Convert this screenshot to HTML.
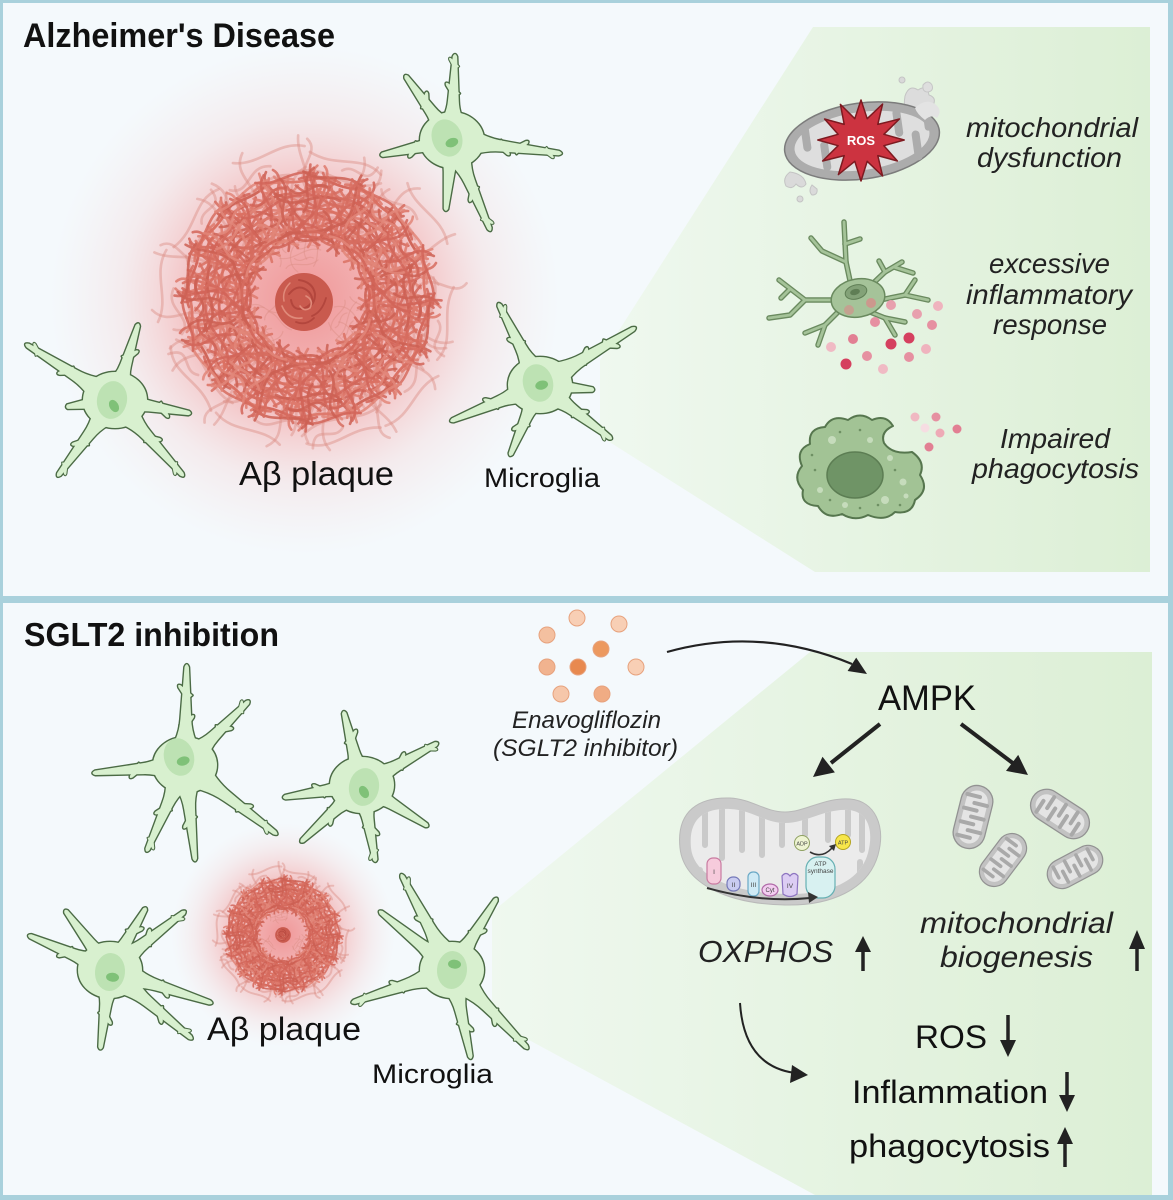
<!DOCTYPE html>
<html><head><meta charset="utf-8">
<style>
html,body{margin:0;padding:0;background:#a9d1dc;}
svg{display:block}
text{font-family:"Liberation Sans",Arial,sans-serif}
</style></head>
<body>
<svg width="1173" height="1200" viewBox="0 0 1173 1200" xmlns="http://www.w3.org/2000/svg" xmlns:xlink="http://www.w3.org/1999/xlink">
<defs>
 <linearGradient id="wg1" gradientUnits="userSpaceOnUse" x1="600" y1="0" x2="1152" y2="0">
  <stop offset="0" stop-color="#eff8ef"/><stop offset="1" stop-color="#dcefd5"/>
 </linearGradient>
 <linearGradient id="wg2" gradientUnits="userSpaceOnUse" x1="490" y1="0" x2="1152" y2="0">
  <stop offset="0" stop-color="#eff8ef"/><stop offset="1" stop-color="#dcefd5"/>
 </linearGradient>
 <radialGradient id="glow1" gradientUnits="userSpaceOnUse" cx="305" cy="300" r="255">
  <stop offset="0" stop-color="#ef7d7d" stop-opacity=".8"/>
  <stop offset=".45" stop-color="#f29494" stop-opacity=".55"/>
  <stop offset=".72" stop-color="#f6b9b9" stop-opacity=".22"/>
  <stop offset="1" stop-color="#f8d0d0" stop-opacity="0"/>
 </radialGradient>
 <radialGradient id="glow2" gradientUnits="userSpaceOnUse" cx="283" cy="935" r="112">
  <stop offset="0" stop-color="#ef7d7d" stop-opacity=".8"/>
  <stop offset=".5" stop-color="#f29494" stop-opacity=".5"/>
  <stop offset=".8" stop-color="#f6b9b9" stop-opacity=".18"/>
  <stop offset="1" stop-color="#f8d0d0" stop-opacity="0"/>
 </radialGradient>
 <clipPath id="mclip"><path d="M691,848 C688,817 706,808 730,809 C752,810 765,823 785,823 C806,823 826,808 849,810 C868,812 874,830 868,853 C860,882 828,895 785,894 C737,893 694,878 691,848 Z"/></clipPath>

 <!-- plaque strand clusters (sector around +x axis) -->
 <g id="tg">
  <path d="M60,-30 C75,-15 50,5 65,30"/>
  <path d="M80,-38 C70,-10 95,10 82,38"/>
  <path d="M100,-35 C112,-12 92,8 108,34"/>
  <path d="M118,-30 C110,-5 128,12 115,32"/>
  <path d="M50,-10 C65,-25 90,-20 100,-5"/>
  <path d="M70,10 C90,0 105,25 125,15"/>
  <path d="M88,-25 C100,-40 120,-20 128,-35"/>
  <path d="M55,20 C70,35 95,30 105,42"/>
  <path d="M92,-5 C85,10 100,20 90,30"/>
  <path d="M65,-40 C80,-30 90,-45 105,-30"/>
  <path d="M110,0 C120,10 100,22 120,28"/>
  <path d="M75,-12 C62,0 78,12 70,22"/>
 </g>
 <g id="tg2">
  <path d="M55,-35 C70,-20 60,0 75,15"/>
  <path d="M95,-42 C85,-20 110,-5 100,20"/>
  <path d="M125,-20 C115,0 130,20 118,40"/>
  <path d="M62,5 C80,15 75,35 95,40"/>
  <path d="M85,-15 C100,-5 115,-25 130,-10"/>
  <path d="M48,25 C60,10 80,20 88,5"/>
  <path d="M105,-30 C95,-15 120,-10 112,8"/>
  <path d="M70,-30 C85,-45 100,-25 115,-42"/>
  <path d="M78,25 C95,40 110,30 128,38"/>
  <path d="M58,-20 C52,-5 66,5 58,18"/>
 </g>
 <g id="plq" fill="none" stroke-linecap="round">
  <use href="#tg" stroke="#d66c5f"/>
  <use href="#tg" transform="rotate(22.5)" stroke="#de7a6d"/>
  <use href="#tg" transform="rotate(45)" stroke="#d26559"/>
  <use href="#tg" transform="rotate(67.5)" stroke="#e28679"/>
  <use href="#tg" transform="rotate(90)" stroke="#d66c5f"/>
  <use href="#tg" transform="rotate(112.5)" stroke="#de7a6d"/>
  <use href="#tg" transform="rotate(135)" stroke="#d26559"/>
  <use href="#tg" transform="rotate(157.5)" stroke="#e28679"/>
  <use href="#tg" transform="rotate(180)" stroke="#d66c5f"/>
  <use href="#tg" transform="rotate(202.5)" stroke="#de7a6d"/>
  <use href="#tg" transform="rotate(225)" stroke="#d26559"/>
  <use href="#tg" transform="rotate(247.5)" stroke="#e28679"/>
  <use href="#tg" transform="rotate(270)" stroke="#d66c5f"/>
  <use href="#tg" transform="rotate(292.5)" stroke="#de7a6d"/>
  <use href="#tg" transform="rotate(315)" stroke="#d26559"/>
  <use href="#tg" transform="rotate(337.5)" stroke="#e28679"/>
  <use href="#tg" transform="rotate(11.25) scale(1,-1)" stroke="#d26559"/>
  <use href="#tg" transform="rotate(33.75) scale(1,-1)" stroke="#da7163"/>
  <use href="#tg" transform="rotate(56.25) scale(1,-1)" stroke="#cd6054"/>
  <use href="#tg" transform="rotate(78.75) scale(1,-1)" stroke="#de7a6d"/>
  <use href="#tg" transform="rotate(101.25) scale(1,-1)" stroke="#d26559"/>
  <use href="#tg" transform="rotate(123.75) scale(1,-1)" stroke="#da7163"/>
  <use href="#tg" transform="rotate(146.25) scale(1,-1)" stroke="#cd6054"/>
  <use href="#tg" transform="rotate(168.75) scale(1,-1)" stroke="#de7a6d"/>
  <use href="#tg" transform="rotate(191.25) scale(1,-1)" stroke="#d26559"/>
  <use href="#tg" transform="rotate(213.75) scale(1,-1)" stroke="#da7163"/>
  <use href="#tg" transform="rotate(236.25) scale(1,-1)" stroke="#cd6054"/>
  <use href="#tg" transform="rotate(258.75) scale(1,-1)" stroke="#de7a6d"/>
  <use href="#tg" transform="rotate(281.25) scale(1,-1)" stroke="#d26559"/>
  <use href="#tg" transform="rotate(303.75) scale(1,-1)" stroke="#da7163"/>
  <use href="#tg" transform="rotate(326.25) scale(1,-1)" stroke="#cd6054"/>
  <use href="#tg" transform="rotate(348.75) scale(1,-1)" stroke="#de7a6d"/>
  <use href="#tg2" transform="rotate(7)" stroke="#cd6054"/>
  <use href="#tg2" transform="rotate(29.5)" stroke="#d66c5f"/>
  <use href="#tg2" transform="rotate(52)" stroke="#e28679"/>
  <use href="#tg2" transform="rotate(74.5)" stroke="#d26559"/>
  <use href="#tg2" transform="rotate(97)" stroke="#cd6054"/>
  <use href="#tg2" transform="rotate(119.5)" stroke="#d66c5f"/>
  <use href="#tg2" transform="rotate(142)" stroke="#e28679"/>
  <use href="#tg2" transform="rotate(164.5)" stroke="#d26559"/>
  <use href="#tg2" transform="rotate(187)" stroke="#cd6054"/>
  <use href="#tg2" transform="rotate(209.5)" stroke="#d66c5f"/>
  <use href="#tg2" transform="rotate(232)" stroke="#e28679"/>
  <use href="#tg2" transform="rotate(254.5)" stroke="#d26559"/>
  <use href="#tg2" transform="rotate(277)" stroke="#cd6054"/>
  <use href="#tg2" transform="rotate(299.5)" stroke="#d66c5f"/>
  <use href="#tg2" transform="rotate(322)" stroke="#e28679"/>
  <use href="#tg2" transform="rotate(344.5)" stroke="#d26559"/>
 </g>
 <g id="plqo" fill="none" stroke-linecap="round" stroke="#dc8f85">
  <use href="#tg" transform="rotate(10) scale(1.2)"/>
  <use href="#tg2" transform="rotate(40) scale(1.2)"/>
  <use href="#tg" transform="rotate(75) scale(1.22)"/>
  <use href="#tg2" transform="rotate(110) scale(1.18)"/>
  <use href="#tg" transform="rotate(145) scale(1.22)"/>
  <use href="#tg2" transform="rotate(180) scale(1.2)"/>
  <use href="#tg" transform="rotate(215) scale(1.18)"/>
  <use href="#tg2" transform="rotate(250) scale(1.22)"/>
  <use href="#tg" transform="rotate(285) scale(1.2)"/>
  <use href="#tg2" transform="rotate(320) scale(1.2)"/>
  <use href="#tg" transform="rotate(30) scale(.55)"/>
  <use href="#tg2" transform="rotate(150) scale(.55)"/>
  <use href="#tg" transform="rotate(260) scale(.55)"/>
 </g>
 <g id="pcore">
  <circle r="29" fill="#c95a4e"/>
  <g fill="none" stroke-linecap="round">
   <path d="M-15,-8 q10,-12 20,-2 q8,10 -4,16 q-12,4 -14,-8" stroke="#b3463d" stroke-width="2"/>
   <path d="M-5,-22 q14,2 16,14 q0,12 -10,14" stroke="#b3463d" stroke-width="2"/>
   <path d="M-22,4 q6,14 20,12" stroke="#e08a7a" stroke-width="1.6"/>
   <path d="M2,-6 q8,4 4,12 q-6,4 -10,-2" stroke="#e08a7a" stroke-width="1.6"/>
   <path d="M8,14 q10,-4 14,-18" stroke="#b3463d" stroke-width="1.8"/>
   <path d="M-14,-19 q-8,8 -6,18" stroke="#e08a7a" stroke-width="1.5"/>
   <path d="M-8,20 q10,4 18,-4" stroke="#b3463d" stroke-width="1.8"/>
  </g>
 </g>

 <!-- microglia building blocks -->
 <path id="arm" vector-effect="non-scaling-stroke" d="M4,-22 Q24,-6.5 45,-5.4 L96,-2.2 Q101.5,0 96,2.2 L45,5.4 Q24,6.5 4,22 Z"/>
 <path id="tw" d="M-5,-3.8 L10,-1.6 Q13.8,0 10,1.6 L-5,3.8 Z"/>

 <g id="c1">
  <ellipse rx="32" ry="28"/>
  <use href="#arm" transform="rotate(-88) scale(.87,1)"/>
  <use href="#tw" transform="rotate(-88) translate(48,0) rotate(-42)"/>
  <use href="#tw" transform="rotate(-88) translate(75,0) rotate(-38) scale(.75)"/>
  <use href="#arm" transform="rotate(-126) scale(.81,1)"/>
  <use href="#tw" transform="rotate(-126) translate(45,0) rotate(42)"/>
  <use href="#arm" transform="rotate(168) scale(.74,1)"/>
  <use href="#tw" transform="rotate(168) translate(37,0) rotate(-42)"/>
  <use href="#arm" transform="rotate(7) scale(1.12,1)"/>
  <use href="#tw" transform="rotate(7) translate(67,0) rotate(-42)"/>
  <use href="#tw" transform="rotate(7) translate(50,0) rotate(42)"/>
  <use href="#tw" transform="rotate(7) translate(96,0) rotate(38) scale(.75)"/>
  <use href="#arm" transform="rotate(67)"/>
  <use href="#tw" transform="rotate(67) translate(55,0) rotate(42)"/>
  <use href="#tw" transform="rotate(67) translate(86,0) rotate(-38) scale(.75)"/>
  <use href="#arm" transform="rotate(95) scale(.72,1)"/>
 </g>
 <g id="c2">
  <ellipse rx="32" ry="28"/>
  <use href="#arm" transform="rotate(-148) scale(1.07,1)"/>
  <use href="#tw" transform="rotate(-148) translate(54,0) rotate(-42)"/>
  <use href="#tw" transform="rotate(-148) translate(92,0) rotate(38) scale(.75)"/>
  <use href="#arm" transform="rotate(-73) scale(.81,1)"/>
  <use href="#tw" transform="rotate(-73) translate(45,0) rotate(42)"/>
  <use href="#arm" transform="rotate(10) scale(.78,1)"/>
  <use href="#tw" transform="rotate(10) translate(47,0) rotate(42)"/>
  <use href="#arm" transform="rotate(48) scale(1.04,1)"/>
  <use href="#tw" transform="rotate(48) translate(52,0) rotate(-42)"/>
  <use href="#tw" transform="rotate(48) translate(89,0) rotate(38) scale(.75)"/>
  <use href="#arm" transform="rotate(127) scale(.97,1)"/>
  <use href="#tw" transform="rotate(127) translate(53,0) rotate(42)"/>
  <use href="#tw" transform="rotate(127) translate(83,0) rotate(-38) scale(.75)"/>
  <use href="#arm" transform="rotate(172) scale(.5,1)"/>
 </g>
 <g id="c3">
  <ellipse rx="32" ry="28"/>
  <use href="#arm" transform="rotate(-117) scale(.93,1)"/>
  <use href="#tw" transform="rotate(-117) translate(47,0) rotate(-42)"/>
  <use href="#tw" transform="rotate(-117) translate(80,0) rotate(38) scale(.75)"/>
  <use href="#arm" transform="rotate(-31) scale(1.13,1)"/>
  <use href="#tw" transform="rotate(-31) translate(51,0) rotate(-42)"/>
  <use href="#tw" transform="rotate(-31) translate(79,0) rotate(42)"/>
  <use href="#arm" transform="rotate(158) scale(.98,1)"/>
  <use href="#tw" transform="rotate(158) translate(49,0) rotate(42)"/>
  <use href="#arm" transform="rotate(113) scale(.78,1)"/>
  <use href="#tw" transform="rotate(113) translate(43,0) rotate(42)"/>
  <use href="#arm" transform="rotate(37) scale(.91,1)"/>
  <use href="#tw" transform="rotate(37) translate(46,0) rotate(-42)"/>
  <use href="#tw" transform="rotate(37) translate(78,0) rotate(38) scale(.75)"/>
  <use href="#arm" transform="rotate(5) scale(.55,1)"/>
 </g>
 <g id="c4">
  <ellipse rx="32" ry="28"/>
  <use href="#arm" transform="rotate(-89) scale(1.02,1)"/>
  <use href="#tw" transform="rotate(-89) translate(41,0) rotate(42)"/>
  <use href="#tw" transform="rotate(-89) translate(71,0) rotate(-42)"/>
  <use href="#arm" transform="rotate(-45) scale(.92,1)"/>
  <use href="#tw" transform="rotate(-45) translate(51,0) rotate(42)"/>
  <use href="#tw" transform="rotate(-45) translate(79,0) rotate(-38) scale(.75)"/>
  <use href="#arm" transform="rotate(175) scale(.94,1)"/>
  <use href="#tw" transform="rotate(175) translate(47,0) rotate(-42)"/>
  <use href="#arm" transform="rotate(37) scale(1.17,1)"/>
  <use href="#tw" transform="rotate(37) translate(70,0) rotate(-42)"/>
  <use href="#tw" transform="rotate(37) translate(100,0) rotate(38) scale(.75)"/>
  <use href="#arm" transform="rotate(84) scale(.98,1)"/>
  <use href="#tw" transform="rotate(84) translate(54,0) rotate(42)"/>
  <use href="#arm" transform="rotate(114) scale(.96,1)"/>
  <use href="#tw" transform="rotate(114) translate(48,0) rotate(42)"/>
  <use href="#tw" transform="rotate(114) translate(83,0) rotate(-38) scale(.75)"/>
 </g>
 <g id="c5">
  <ellipse rx="32" ry="28"/>
  <use href="#arm" transform="rotate(-104) scale(.77,1)"/>
  <use href="#tw" transform="rotate(-104) translate(46,0) rotate(42)"/>
  <use href="#arm" transform="rotate(-29) scale(.88,1)"/>
  <use href="#tw" transform="rotate(-29) translate(44,0) rotate(-42)"/>
  <use href="#tw" transform="rotate(-29) translate(76,0) rotate(38) scale(.75)"/>
  <use href="#arm" transform="rotate(171) scale(.81,1)"/>
  <use href="#tw" transform="rotate(171) translate(40,0) rotate(42)"/>
  <use href="#arm" transform="rotate(137) scale(.85,1)"/>
  <use href="#tw" transform="rotate(137) translate(42,0) rotate(-42)"/>
  <use href="#arm" transform="rotate(80) scale(.79,1)"/>
  <use href="#tw" transform="rotate(80) translate(43,0) rotate(-42)"/>
  <use href="#tw" transform="rotate(80) translate(68,0) rotate(38) scale(.75)"/>
  <use href="#arm" transform="rotate(32) scale(.79,1)"/>
 </g>
 <g id="c6">
  <ellipse rx="32" ry="28"/>
  <use href="#arm" transform="rotate(-157) scale(.9,1)"/>
  <use href="#tw" transform="rotate(-157) translate(45,0) rotate(-42)"/>
  <use href="#arm" transform="rotate(-127) scale(.76,1)"/>
  <use href="#arm" transform="rotate(-60) scale(.73,1)"/>
  <use href="#tw" transform="rotate(-60) translate(44,0) rotate(42)"/>
  <use href="#arm" transform="rotate(-38) scale(.97,1)"/>
  <use href="#tw" transform="rotate(-38) translate(48,0) rotate(-42)"/>
  <use href="#tw" transform="rotate(-38) translate(83,0) rotate(38) scale(.75)"/>
  <use href="#arm" transform="rotate(18) scale(1.09,1)"/>
  <use href="#tw" transform="rotate(18) translate(55,0) rotate(42)"/>
  <use href="#arm" transform="rotate(40) scale(1.09,1)"/>
  <use href="#tw" transform="rotate(40) translate(65,0) rotate(42)"/>
  <use href="#tw" transform="rotate(40) translate(94,0) rotate(-38) scale(.75)"/>
  <use href="#arm" transform="rotate(97) scale(.81,1)"/>
  <use href="#tw" transform="rotate(97) translate(45,0) rotate(-42)"/>
 </g>
 <g id="c7">
  <ellipse rx="32" ry="28"/>
  <use href="#arm" transform="rotate(-118) scale(1.1,1)"/>
  <use href="#tw" transform="rotate(-118) translate(55,0) rotate(-42)"/>
  <use href="#tw" transform="rotate(-118) translate(95,0) rotate(38) scale(.75)"/>
  <use href="#arm" transform="rotate(-141) scale(.95,1)"/>
  <use href="#arm" transform="rotate(-58) scale(.86,1)"/>
  <use href="#tw" transform="rotate(-58) translate(43,0) rotate(42)"/>
  <use href="#arm" transform="rotate(162) scale(1.07,1)"/>
  <use href="#tw" transform="rotate(162) translate(54,0) rotate(42)"/>
  <use href="#tw" transform="rotate(162) translate(92,0) rotate(-38) scale(.75)"/>
  <use href="#arm" transform="rotate(78) scale(.92,1)"/>
  <use href="#tw" transform="rotate(78) translate(55,0) rotate(-42)"/>
  <use href="#arm" transform="rotate(46) scale(1.11,1)"/>
  <use href="#tw" transform="rotate(46) translate(61,0) rotate(42)"/>
  <use href="#tw" transform="rotate(46) translate(95,0) rotate(-38) scale(.75)"/>
 </g>

 <g id="smito">
  <rect x="-16" y="-32" width="32" height="64" rx="16" fill="#c2c2c2" stroke="#929292" stroke-width="1.3"/>
  <rect x="-11" y="-27" width="22" height="54" rx="11" fill="#e4e4e4"/>
  <path d="M-11,-21 h13 M11,-14 h-13 M-11,-7 h13 M11,0 h-13 M-11,7 h13 M11,14 h-13 M-11,21 h13" stroke="#a9a9a9" stroke-width="4" stroke-linecap="round" fill="none"/>
 </g>
 <g id="proc">
  <polyline points="852,290 846,262 844,222"/>
  <polyline points="846,262 822,251 811,238"/>
  <polyline points="845,244 860,239"/>
  <polyline points="866,290 885,272 902,262"/>
  <polyline points="885,272 879,261"/>
  <polyline points="894,267 913,273"/>
  <polyline points="835,300 805,300 779,280"/>
  <polyline points="805,300 790,315 769,318"/>
  <polyline points="790,289 781,298"/>
  <polyline points="880,300 905,295 928,300"/>
  <polyline points="905,295 915,280"/>
  <polyline points="840,310 825,325 818,345"/>
  <polyline points="825,325 805,333"/>
  <polyline points="870,312 885,318 895,335"/>
  <polyline points="885,318 905,322"/>
 </g>
</defs>

<!-- panels -->
<rect width="1173" height="1200" fill="#a9d1dc"/>
<rect x="3" y="3" width="1165" height="593" fill="#f4f9fc"/>
<rect x="3" y="603" width="1165" height="592" fill="#f4f9fc"/>

<!-- wedges -->
<polygon points="813,27 1150,27 1150,572 815,572 600,436 600,360" fill="url(#wg1)"/>
<polygon points="810,652 1152,652 1152,1195 815,1195 492,1020 492,912" fill="url(#wg2)"/>

<!-- glows -->
<circle cx="305" cy="300" r="255" fill="url(#glow1)"/>
<circle cx="283" cy="935" r="112" fill="url(#glow2)"/>

<!-- plaques -->
<g transform="translate(308,298)">
 <use href="#plqo" stroke-width="2.2" stroke-opacity=".45"/>
 <use href="#plq" stroke-width="2.6" stroke-opacity=".85"/>
 <use href="#pcore" transform="translate(-4,4)"/>
</g>
<g transform="translate(283,935) scale(.45)">
 <use href="#plqo" stroke-width="3.6" stroke-opacity=".45"/>
 <use href="#plq" stroke-width="3.6" stroke-opacity=".85"/>
 <use href="#pcore" transform="scale(.6)"/>
</g>

<!-- microglia: outline pass then fill pass -->
<g fill="#4b6b45" stroke="#4b6b45" stroke-width="2.8" stroke-linejoin="round">
 <use href="#c1" transform="translate(452,140)"/>
 <use href="#c2" transform="translate(115,400)"/>
 <use href="#c3" transform="translate(540,385)"/>
 <use href="#c4" transform="translate(185,765)"/>
 <use href="#c5" transform="translate(362,785)"/>
 <use href="#c6" transform="translate(110,970)"/>
 <use href="#c7" transform="translate(452,970)"/>
</g>
<g fill="#d8f0cf">
 <use href="#c1" transform="translate(452,140)"/>
 <use href="#c2" transform="translate(115,400)"/>
 <use href="#c3" transform="translate(540,385)"/>
 <use href="#c4" transform="translate(185,765)"/>
 <use href="#c5" transform="translate(362,785)"/>
 <use href="#c6" transform="translate(110,970)"/>
 <use href="#c7" transform="translate(452,970)"/>
</g>
<g>
 <ellipse cx="447" cy="138" rx="15" ry="19" fill="#bde2b3" transform="rotate(-20 447 138)"/>
 <ellipse cx="450" cy="144" rx="6.5" ry="4.5" fill="#7fc178" transform="rotate(-20 447 138)"/>
 <ellipse cx="112" cy="400" rx="15" ry="19" fill="#bde2b3" transform="rotate(10 112 400)"/>
 <ellipse cx="114" cy="406" rx="6.5" ry="4.5" fill="#7fc178" transform="rotate(60 114 406)"/>
 <ellipse cx="538" cy="383" rx="15" ry="19" fill="#bde2b3" transform="rotate(-15 538 383)"/>
 <ellipse cx="541" cy="386" rx="6.5" ry="4.5" fill="#7fc178" transform="rotate(-15 538 383)"/>
 <ellipse cx="179" cy="757" rx="15" ry="19" fill="#bde2b3" transform="rotate(-15 179 757)"/>
 <ellipse cx="182" cy="762" rx="6.5" ry="4.5" fill="#7fc178" transform="rotate(-15 179 757)"/>
 <ellipse cx="364" cy="787" rx="15" ry="19" fill="#bde2b3" transform="rotate(10 364 787)"/>
 <ellipse cx="364" cy="792" rx="6.5" ry="4.5" fill="#7fc178" transform="rotate(60 364 792)"/>
 <ellipse cx="110" cy="972" rx="15" ry="19" fill="#bde2b3" transform="rotate(5 110 972)"/>
 <ellipse cx="113" cy="977" rx="6.5" ry="4.5" fill="#7fc178" transform="rotate(5 110 972)"/>
 <ellipse cx="452" cy="970" rx="15" ry="19" fill="#bde2b3" transform="rotate(5 452 970)"/>
 <ellipse cx="454" cy="964" rx="6.5" ry="4.5" fill="#7fc178" transform="rotate(5 452 970)"/>
</g>

<!-- ROS mitochondrion -->
<g>
 <path d="M905,96 q4,-12 13,-6 q9,-6 11,5 q9,3 3,12 q4,9 -7,10 q-6,7 -13,-1 q-10,-2 -7,-20z" fill="#dcdcdc" stroke="#c4c4c4"/>
 <circle cx="902" cy="80" r="3" fill="#d9d9d9" stroke="#c4c4c4"/>
 <path d="M923,85 q5,-6 9,0 q2,6 -4,7 q-6,0 -5,-7z" fill="#dedede" stroke="#c6c6c6"/>
 <ellipse cx="862" cy="141" rx="78" ry="38" transform="rotate(-8 862 141)" fill="#acacac" stroke="#7c7c7c" stroke-width="1.5"/>
 <ellipse cx="862" cy="141" rx="68" ry="29" transform="rotate(-8 862 141)" fill="#dedede"/>
 <g fill="#acacac" transform="rotate(-8 862 141)">
  <rect x="803" y="118" width="8" height="26" rx="4"/>
  <rect x="820" y="136" width="8" height="30" rx="4"/>
  <rect x="896" y="114" width="8" height="28" rx="4"/>
  <rect x="912" y="138" width="8" height="30" rx="4"/>
  <rect x="926" y="116" width="7" height="24" rx="3.5"/>
 </g>
 <path d="M915,108 q10,-10 20,-4 q8,6 2,14 q-6,-4 -12,2 q-8,-6 -10,-12z" fill="#e3e3e3"/>
 <path d="M790,172 q-8,6 -4,14 q6,4 10,-2 q6,6 10,0 q-2,-10 -16,-12z" fill="#dadada" stroke="#c4c4c4"/>
 <circle cx="800" cy="199" r="3" fill="#dadada" stroke="#c4c4c4"/>
 <path d="M812,185 q-4,6 0,10 q6,0 5,-6z" fill="#dadada" stroke="#c4c4c4"/>
 <polygon fill="#cc3340" stroke="#7d1a20" stroke-width="1.5" stroke-linejoin="round" points="861,100 867.2,118.7 882.6,104 877.8,124.4 899.4,119 883.9,134.3 904.2,140 883.9,145.7 897.4,161 877.8,155.6 882.6,176 867.2,161.3 861,181 854.8,161.3 838.4,174.6 844.2,155.6 822.6,161 838.1,145.7 817.8,140 838.1,134.3 824.6,119 844.2,124.4 840.4,104.4 854.8,118.7"/>
 <text x="861" y="145" font-size="13" font-weight="bold" fill="#ffffff" text-anchor="middle">ROS</text>
</g>

<!-- inflammatory microglia -->
<g fill="none" stroke-linecap="round" stroke-linejoin="round">
 <use href="#proc" stroke="#6a8a5f" stroke-width="5.5"/>
 <use href="#proc" stroke="#a5c399" stroke-width="2.8"/>
</g>
<ellipse cx="858" cy="298" rx="27" ry="19" transform="rotate(-10 858 298)" fill="#a5c399" stroke="#6a8a5f" stroke-width="1.5"/>
<ellipse cx="856" cy="292" rx="11" ry="7" transform="rotate(-15 856 292)" fill="#83a278" stroke="#5f7e55"/>
<ellipse cx="855" cy="292" rx="5" ry="3" transform="rotate(-15 855 292)" fill="#5f7e55"/>
<circle cx="871" cy="303" r="5" fill="#d98a8a" opacity=".75"/>
<circle cx="849" cy="310" r="5" fill="#d98a8a" opacity=".6"/>
<g>
 <circle cx="891" cy="305" r="5" fill="#e8a0ae"/>
 <circle cx="938" cy="306" r="5" fill="#efb3be"/>
 <circle cx="917" cy="314" r="5" fill="#e8a0ae"/>
 <circle cx="932" cy="325" r="5" fill="#e690a1"/>
 <circle cx="875" cy="322" r="5" fill="#e690a1"/>
 <circle cx="853" cy="339" r="5" fill="#e27f93"/>
 <circle cx="891" cy="344" r="5.5" fill="#d5405f"/>
 <circle cx="909" cy="338" r="5.5" fill="#d5405f"/>
 <circle cx="926" cy="349" r="5" fill="#efb3be"/>
 <circle cx="831" cy="347" r="5" fill="#f0bac4"/>
 <circle cx="867" cy="356" r="5" fill="#e690a1"/>
 <circle cx="909" cy="357" r="5" fill="#e690a1"/>
 <circle cx="846" cy="364" r="5.5" fill="#d5405f"/>
 <circle cx="883" cy="369" r="5" fill="#f0bac4"/>
</g>

<!-- phagocyte -->
<path d="M912,452 Q926,462 920,475 Q930,490 915,500 Q912,515 895,512 Q885,522 868,515 Q855,522 842,514 Q826,520 818,506 Q800,505 803,490 Q792,478 802,466 Q795,450 810,444 Q808,428 825,427 Q832,414 848,420 Q860,411 872,420 Q886,414 893,426 Q880,432 884,443 Q892,455 912,452 Z" fill="#a2c395" stroke="#56764e" stroke-width="2" stroke-linejoin="round"/>
<ellipse cx="855" cy="475" rx="28" ry="23" fill="#6f9466" stroke="#5c7d53" stroke-width="1.5"/>
<g fill="#c6dcbc">
 <circle cx="832" cy="440" r="4"/><circle cx="890" cy="458" r="3"/><circle cx="820" cy="490" r="3"/>
 <circle cx="885" cy="500" r="4"/><circle cx="903" cy="482" r="3.5"/><circle cx="845" cy="505" r="3"/>
 <circle cx="870" cy="440" r="3"/><circle cx="906" cy="496" r="2.5"/>
</g>
<g fill="#6e9064">
 <circle cx="815" cy="470" r="1.3"/><circle cx="840" cy="432" r="1.3"/><circle cx="860" cy="430" r="1.3"/>
 <circle cx="895" cy="470" r="1.3"/><circle cx="878" cy="505" r="1.3"/><circle cx="830" cy="500" r="1.3"/>
 <circle cx="812" cy="455" r="1.3"/><circle cx="900" cy="505" r="1.3"/><circle cx="860" cy="508" r="1.3"/>
</g>
<g>
 <circle cx="915" cy="417" r="4.5" fill="#f0b8c2"/>
 <circle cx="936" cy="417" r="4.5" fill="#e690a1"/>
 <circle cx="925" cy="428" r="4.5" fill="#f6dde2"/>
 <circle cx="940" cy="433" r="4.5" fill="#eeaab6"/>
 <circle cx="957" cy="429" r="4.5" fill="#e27f93"/>
 <circle cx="929" cy="447" r="4.5" fill="#e27f93"/>
</g>

<!-- drug dots -->
<g stroke="#e7a27d" stroke-width="1">
 <circle cx="577" cy="618" r="8" fill="#f8cfb5"/>
 <circle cx="619" cy="624" r="8" fill="#f8cfb5"/>
 <circle cx="547" cy="635" r="8" fill="#f4c0a0"/>
 <circle cx="601" cy="649" r="8" fill="#ec995f"/>
 <circle cx="547" cy="667" r="8" fill="#f1b38f"/>
 <circle cx="578" cy="667" r="8" fill="#e8894f"/>
 <circle cx="636" cy="667" r="8" fill="#f8cfb5"/>
 <circle cx="561" cy="694" r="8" fill="#f6c7aa"/>
 <circle cx="602" cy="694" r="8" fill="#f0ac84"/>
</g>

<!-- big mitochondrion -->
<path d="M680,848 C676,810 700,797 730,798 C752,799 765,812 785,812 C805,812 825,797 850,799 C875,801 886,826 878,855 C868,890 830,906 785,905 C730,904 684,885 680,848 Z" fill="#cacaca" stroke="#b9b9b9" stroke-width="1"/>
<path d="M691,848 C688,817 706,808 730,809 C752,810 765,823 785,823 C806,823 826,808 849,810 C868,812 874,830 868,853 C860,882 828,895 785,894 C737,893 694,878 691,848 Z" fill="#ebebeb"/>
<g clip-path="url(#mclip)" stroke="#cacaca" stroke-width="6" stroke-linecap="round" fill="none">
 <path d="M705,805 V845 M722,805 V858 M742,806 V850 M762,815 V855 M782,815 V845 M805,815 V835 M828,808 V840 M848,805 V835 M862,808 V850"/>
 <path d="M700,900 V870 M860,900 V862"/>
</g>
<g font-size="6.5" text-anchor="middle" fill="#444">
 <rect x="707" y="858" width="14" height="26" rx="6" fill="#f6cbdc" stroke="#c97aa0" stroke-width="1.2"/>
 <text x="714" y="874">I</text>
 <rect x="727" y="877" width="13" height="14" rx="6" fill="#c9cbf0" stroke="#7478b8" stroke-width="1.2"/>
 <text x="733.5" y="887">II</text>
 <rect x="748" y="872" width="11" height="24" rx="5" fill="#cfeaf5" stroke="#6aa9c6" stroke-width="1.2"/>
 <text x="753.5" y="887">III</text>
 <ellipse cx="770" cy="890" rx="8" ry="6" fill="#f3cdf0" stroke="#b06aa8" stroke-width="1.2"/>
 <text x="770" y="892" font-size="6">Cyt</text>
 <path d="M782,876 q4,-5 8,0 q4,-5 8,0 l-1,18 q-7,5 -14,0 z" fill="#dccdf3" stroke="#8d74c0" stroke-width="1.2"/>
 <text x="790" y="888">IV</text>
 <rect x="806" y="857" width="29" height="41" rx="12" fill="#d8f1f1" stroke="#66b0b3" stroke-width="1.2"/>
 <text x="820.5" y="866">ATP</text>
 <text x="820.5" y="873">synthase</text>
 <circle cx="802" cy="843" r="7.5" fill="#eef4d2" stroke="#8ea060"/>
 <text x="802" y="845.5" font-size="5.5">ADP</text>
 <circle cx="843" cy="842" r="7.5" fill="#f7e64a" stroke="#b4a420"/>
 <text x="843" y="844.5" font-size="5.5">ATP</text>
</g>
<path d="M810,852 Q822,859 832,848" stroke="#333" stroke-width="1.6" fill="none"/>
<polygon points="836,844 829,846 834,851" fill="#333"/>
<path d="M707,888 Q760,903 810,898" stroke="#333" stroke-width="2" fill="none"/>
<polygon points="818,897 808,892 809,903" fill="#333"/>

<!-- small mitochondria -->
<use href="#smito" transform="translate(973,817) rotate(14)"/>
<use href="#smito" transform="translate(1060,814) rotate(-57)"/>
<use href="#smito" transform="translate(1003,860) rotate(37) scale(0.92)"/>
<use href="#smito" transform="translate(1075,867) rotate(62) scale(0.92)"/>

<!-- arrows -->
<g fill="#222" stroke="none">
 <path d="M667,652 Q760,626 852,664" stroke="#222" stroke-width="2.2" fill="none"/>
 <polygon points="867,674 847.6,671 856.2,657.6"/>
 <line x1="880" y1="724" x2="831" y2="763" stroke="#222" stroke-width="4"/>
 <polygon points="813,777 822.5,756.8 834.9,772.4"/>
 <line x1="961" y1="724" x2="1014" y2="764" stroke="#222" stroke-width="4"/>
 <polygon points="1028,775 1006,770.9 1018.2,754.9"/>
 <line x1="863" y1="971" x2="863" y2="949" stroke="#222" stroke-width="3.5"/>
 <polygon points="855,952 871,952 863,936"/>
 <line x1="1137" y1="971" x2="1137" y2="946" stroke="#222" stroke-width="3.5"/>
 <polygon points="1129,949 1145,949 1137,930"/>
 <line x1="1008" y1="1015" x2="1008" y2="1043" stroke="#222" stroke-width="3.5"/>
 <polygon points="1000,1040 1016,1040 1008,1057"/>
 <line x1="1067" y1="1072" x2="1067" y2="1098" stroke="#222" stroke-width="3.5"/>
 <polygon points="1059,1095 1075,1095 1067,1112"/>
 <line x1="1065" y1="1167" x2="1065" y2="1141" stroke="#222" stroke-width="3.5"/>
 <polygon points="1057,1144 1073,1144 1065,1127"/>
 <path d="M740,1003 Q744,1066 795,1073" stroke="#222" stroke-width="2" fill="none"/>
 <polygon points="808,1075 792,1065 790,1083"/>
</g>

<!-- text -->
<g fill="#111">
 <text x="23" y="47" font-size="34" font-weight="bold" textLength="312" lengthAdjust="spacingAndGlyphs">Alzheimer's Disease</text>
 <text x="24" y="646" font-size="33" font-weight="bold" textLength="255" lengthAdjust="spacingAndGlyphs">SGLT2 inhibition</text>
 <text x="239" y="485" font-size="33" textLength="155" lengthAdjust="spacingAndGlyphs">Aβ plaque</text>
 <text x="484" y="487" font-size="27" textLength="116" lengthAdjust="spacingAndGlyphs">Microglia</text>
 <text x="207" y="1040" font-size="32" textLength="154" lengthAdjust="spacingAndGlyphs">Aβ plaque</text>
 <text x="372" y="1083" font-size="27" textLength="121" lengthAdjust="spacingAndGlyphs">Microglia</text>
 <text x="878" y="710" font-size="35" textLength="98" lengthAdjust="spacingAndGlyphs">AMPK</text>
 <text x="915" y="1048" font-size="32" textLength="72" lengthAdjust="spacingAndGlyphs">ROS</text>
 <text x="852" y="1103" font-size="32" textLength="196" lengthAdjust="spacingAndGlyphs">Inflammation</text>
 <text x="849" y="1157" font-size="32" textLength="201" lengthAdjust="spacingAndGlyphs">phagocytosis</text>
</g>
<g fill="#222" font-style="italic">
 <text x="966" y="137" font-size="28" textLength="172" lengthAdjust="spacingAndGlyphs">mitochondrial</text>
 <text x="977" y="167" font-size="28" textLength="145" lengthAdjust="spacingAndGlyphs">dysfunction</text>
 <text x="989" y="273" font-size="28" textLength="121" lengthAdjust="spacingAndGlyphs">excessive</text>
 <text x="966" y="304" font-size="28" textLength="166" lengthAdjust="spacingAndGlyphs">inflammatory</text>
 <text x="993" y="334" font-size="28" textLength="114" lengthAdjust="spacingAndGlyphs">response</text>
 <text x="1000" y="448" font-size="28" textLength="110" lengthAdjust="spacingAndGlyphs">Impaired</text>
 <text x="972" y="478" font-size="28" textLength="167" lengthAdjust="spacingAndGlyphs">phagocytosis</text>
 <text x="512" y="728" font-size="24" textLength="149" lengthAdjust="spacingAndGlyphs">Enavogliflozin</text>
 <text x="493" y="756" font-size="24" textLength="185" lengthAdjust="spacingAndGlyphs">(SGLT2 inhibitor)</text>
 <text x="698" y="962" font-size="31" textLength="135" lengthAdjust="spacingAndGlyphs">OXPHOS</text>
 <text x="920" y="933" font-size="30" textLength="193" lengthAdjust="spacingAndGlyphs">mitochondrial</text>
 <text x="940" y="967" font-size="30" textLength="153" lengthAdjust="spacingAndGlyphs">biogenesis</text>
</g>
</svg>
</body></html>
